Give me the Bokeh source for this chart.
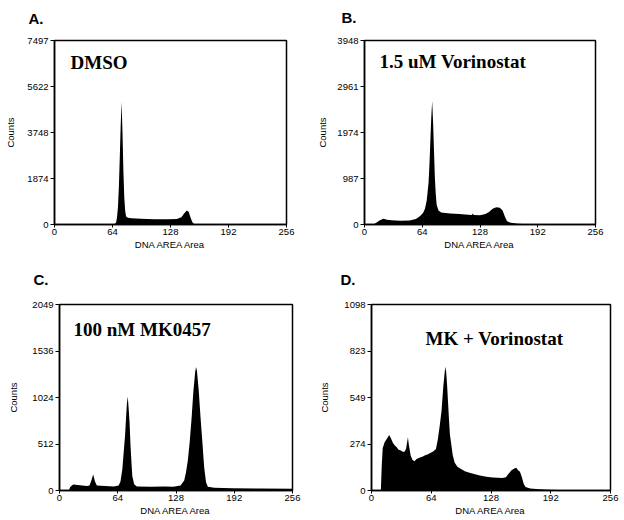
from bokeh.plotting import figure
from bokeh.layouts import row, column
from bokeh.models import Range1d, FixedTicker, Label
from bokeh.embed import file_html
from bokeh.resources import INLINE

# ---------------- data ----------------
x_ticks = [0, 64, 128, 192, 256]

a_title, a_label = "A.", "DMSO"
a_yticks = [0, 1874, 3748, 5622, 7497]
a_ch = [0, 66, 68, 69, 70, 71, 72, 73, 74, 75, 76, 77, 78, 79, 81, 85, 95, 110,
        125, 135, 140, 143, 146, 148, 150, 152, 154, 156, 256]
a_cnt = [0, 0, 80, 300, 700, 1500, 2700, 4000, 5000, 3800, 2200, 1100, 550, 330,
         270, 250, 230, 215, 210, 220, 300, 450, 570, 520, 300, 100, 20, 0, 0]

b_title, b_label = "B.", "1.5 uM Vorinostat"
b_yticks = [0, 987, 1974, 2961, 3948]
b_ch = [0, 10, 13, 17, 21, 25, 30, 40, 50, 57, 62, 65, 67, 69, 71, 72, 73, 74, 75,
        76, 77, 78, 79, 80, 82, 85, 95, 105, 115, 119, 120, 121, 128, 134, 138,
        142, 146, 150, 153, 156, 158, 162, 170, 180, 256]
b_cnt = [0, 0, 40, 90, 125, 100, 90, 80, 85, 120, 190, 250, 340, 520, 900, 1300,
         1800, 2300, 2650, 2200, 1600, 1000, 650, 420, 300, 260, 235, 225, 210,
         205, 235, 205, 200, 225, 270, 340, 372, 360, 300, 150, 70, 35, 15, 5, 0]

c_title, c_label = "C.", "100 nM MK0457"
c_yticks = [0, 512, 1024, 1536, 2049]
c_ch = [0, 10, 12, 15, 20, 25, 30, 33, 35, 37, 39, 41, 50, 60, 65, 67, 69, 71, 72,
        73, 74, 75, 76, 77, 78, 79, 80, 82, 85, 100, 115, 125, 133, 137, 139, 141,
        143, 145, 147, 149, 150, 151, 153, 155, 157, 159, 161, 163, 170, 190, 220,
        256]
c_cnt = [0, 0, 40, 65, 60, 55, 50, 55, 110, 175, 100, 55, 50, 45, 55, 100, 230,
         480, 600, 780, 950, 1035, 900, 750, 500, 320, 160, 70, 45, 40, 45, 40, 55,
         110, 200, 330, 530, 780, 1080, 1300, 1360, 1320, 1100, 800, 530, 250, 90,
         40, 30, 25, 22, 18]

d_title, d_label = "D.", "MK + Vorinostat"
d_yticks = [0, 274, 549, 823, 1098]
d_ch = [0, 10, 11, 12, 14, 17, 19, 21, 23, 25, 27, 29, 31, 33, 35, 37, 39, 40, 42,
        44, 46, 48, 50, 52, 55, 58, 60, 63, 66, 69, 71, 73, 75, 77, 79, 80, 81, 82,
        83, 84, 85, 87, 89, 92, 95, 100, 105, 110, 115, 120, 125, 130, 135, 140,
        144, 147, 150, 153, 155, 157, 159, 161, 163, 165, 170, 180, 190, 200, 256]
d_cnt = [0, 0, 150, 250, 285, 310, 328, 305, 280, 265, 255, 240, 238, 230, 228,
         245, 315, 270, 205, 180, 172, 185, 190, 195, 200, 210, 212, 222, 230, 245,
         300, 380, 470, 620, 730, 700, 620, 520, 420, 330, 290, 210, 165, 140, 130,
         114, 105, 98, 90, 84, 80, 77, 75, 74, 78, 100, 120, 130, 135, 120, 110,
         80, 40, 20, 12, 8, 5, 3, 2]

SANS = "Liberation Sans"
SERIF = "Liberation Serif"


def panel(ch, cnt, yticks, title, label, width, height, bl, br, bt, bb,
          title_dx, title_standoff, ylab_standoff, lab_dx, lab_dy):
    p = figure(width=width, height=height, output_backend="svg",
               toolbar_location=None,
               x_range=Range1d(0, 256), y_range=Range1d(0, yticks[-1]),
               min_border_left=bl, min_border_right=br,
               min_border_top=bt, min_border_bottom=bb)
    p.varea(x=ch, y1=0, y2=cnt, fill_color="black")
    p.xgrid.visible = False
    p.ygrid.visible = False
    p.outline_line_color = "black"
    p.outline_line_width = 1.5
    p.title.text = title + "\n\u00a0"
    p.title.align = "left"
    p.title.offset = title_dx
    p.title.standoff = title_standoff
    p.title.text_font = SANS
    p.title.text_font_style = "bold"
    p.title.text_font_size = "15px"
    p.title.text_color = "black"
    p.xaxis.ticker = FixedTicker(ticks=x_ticks)
    p.yaxis.ticker = FixedTicker(ticks=yticks)
    p.xaxis.axis_label = "DNA AREA Area"
    p.yaxis.axis_label = "Counts"
    for ax in (p.xaxis[0], p.yaxis[0]):
        ax.axis_line_color = "black"
        ax.axis_line_width = 1.5
        ax.major_tick_in = 0
        ax.minor_tick_line_color = None
        ax.major_label_text_font = SANS
        ax.major_label_text_font_size = "9.5px"
        ax.major_label_text_color = "black"
        ax.axis_label_text_font = SANS
        ax.axis_label_text_font_size = "9.5px"
        ax.axis_label_text_font_style = "normal"
        ax.axis_label_text_color = "black"
    p.xaxis.major_tick_out = 3
    p.yaxis.major_tick_out = 4
    p.xaxis.major_label_standoff = 1
    p.xaxis.axis_label_standoff = 1
    p.yaxis.major_label_standoff = 2
    p.yaxis.axis_label_standoff = ylab_standoff
    p.add_layout(Label(x=0, y=yticks[-1], x_offset=lab_dx, y_offset=lab_dy,
                       text=label, text_font=SERIF, text_font_style="bold",
                       text_font_size="19px", text_color="black",
                       text_baseline="top"))
    return p


pA = panel(a_ch, a_cnt, a_yticks, a_title, a_label, 314, 260, 54, 28, 38, 34,
           -26, -6, 8, 16, -11)
pB = panel(b_ch, b_cnt, b_yticks, b_title, b_label, 308, 260, 49, 27, 40, 36,
           -23, -4, 6, 15, -10)
pC = panel(c_ch, c_cnt, c_yticks, c_title, c_label, 314, 258, 59, 22, 44, 26,
           -26, 0, 10, 14, -14)
pD = panel(d_ch, d_cnt, d_yticks, d_title, d_label, 308, 258, 57, 12, 44, 27,
           -31, 0, 11, 54, -23)

layout = column(row(pA, pB), row(pC, pD))
open("out.html", "w").write(file_html(layout, INLINE))
